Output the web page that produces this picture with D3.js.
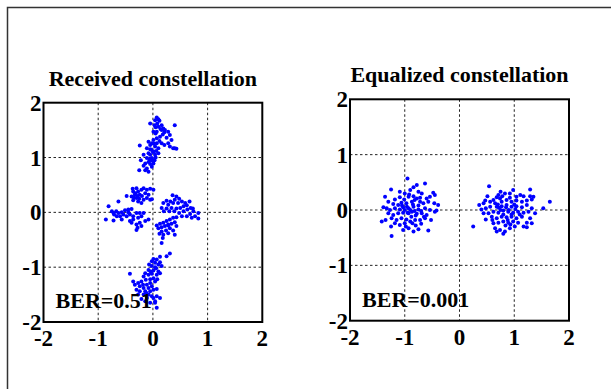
<!DOCTYPE html>
<html>
<head>
<meta charset="utf-8">
<script src="https://cdn.jsdelivr.net/npm/d3@7"></script>
<style>
  body { margin: 0; background: #fff; }
  svg text { font-family: "Liberation Serif", "Times New Roman", serif; font-weight: bold; fill: #000; }
</style>
</head>
<body>
<svg id="chart" width="611" height="389"></svg>
<script>
// tick labels shared by both axes of both panels
const tickValues = [-2, -1, 0, 1, 2];
const gridValues = [-1, 0, 1];

const titles = ["Received constellation", "Equalized constellation"];
const berLabels = ["BER=0.51", "BER=0.001"];

// received constellation
const rxTop = [
  [0.07,1.73],[0.10,1.70],[0.04,1.68],[0.12,1.67],[0.08,1.62],[0.03,1.59],[-0.05,1.62],[0.05,1.55],
  [0.10,1.56],[0.16,1.50],[0.19,1.53],[0.22,1.50],[0.40,1.59],[0.21,1.46],[0.28,1.47],[0.31,1.41],
  [0.13,1.38],[0.07,1.35],[0.25,1.36],[0.34,1.32],[0.28,1.26],[0.21,1.23],[0.40,1.17],[0.43,1.16],
  [0.37,1.17],[0.31,1.20],[0.01,1.32],[-0.02,1.26],[-0.05,1.23],[-0.08,1.29],[-0.24,1.22],[-0.11,1.17],
  [-0.03,1.14],[0.04,1.20],[0.10,1.17],[0.01,1.11],[-0.08,1.08],[-0.05,1.05],[0.04,1.05],[-0.02,0.99],
  [-0.11,0.99],[-0.08,0.92],[-0.14,0.89],[-0.05,0.88],[0.01,0.89],[-0.17,0.85],[-0.22,0.95],[-0.25,0.77],
  [-0.14,0.77],[-0.08,0.74],[-0.11,0.80],[-0.02,0.83],[-0.17,1.05],[0.07,1.26],[0.16,1.26],[0.10,1.08],
  [0.03,0.95],[-0.03,0.95],[0.05,1.44],[0.01,1.47],[0.16,1.59],[0.07,1.47],[0.00,1.10],[0.05,1.00],
  [-0.05,1.15],[0.02,1.25],[0.12,1.30],[0.00,0.95],[0.14,1.52],[0.18,1.42],[-0.06,0.97],[0.06,1.12]
];
const rxLeft = [
  [-0.37,0.43],[-0.30,0.44],[-0.36,0.38],[-0.27,0.38],[-0.21,0.41],[-0.17,0.44],[-0.11,0.41],[-0.14,0.35],
  [-0.05,0.43],[0.01,0.41],[-0.08,0.32],[-0.24,0.32],[-0.33,0.32],[-0.39,0.29],[-0.30,0.26],[-0.36,0.22],
  [-0.27,0.20],[-0.17,0.23],[-0.21,0.17],[-0.11,0.26],[-0.05,0.23],[-0.02,0.24],[-0.48,0.30],[-0.63,0.20],
  [-0.81,0.11],[-0.75,0.02],[-0.72,-0.01],[-0.67,0.02],[-0.63,-0.01],[-0.57,0.00],[-0.51,0.04],[-0.45,0.05],
  [-0.39,0.06],[-0.54,-0.04],[-0.60,-0.07],[-0.66,-0.07],[-0.71,-0.04],[-0.86,-0.13],[-0.72,-0.15],[-0.57,-0.13],
  [-0.48,-0.07],[-0.42,-0.04],[-0.36,-0.07],[-0.30,-0.01],[-0.24,-0.01],[-0.21,-0.07],[-0.27,-0.10],[-0.36,-0.13],
  [-0.42,-0.16],[-0.39,-0.19],[-0.30,-0.22],[-0.24,-0.19],[-0.14,-0.16],[-0.08,-0.13],[-0.30,-0.32],[-0.21,-0.25],
  [-0.17,-0.01],[-0.45,0.00],[-0.32,0.35],[-0.28,0.30],[-0.25,0.25],[-0.35,0.27],[-0.20,0.30],[-0.28,-0.28]
];
const rxRight = [
  [0.36,0.31],[0.43,0.29],[0.48,0.25],[0.40,0.23],[0.32,0.20],[0.25,0.21],[0.19,0.17],[0.28,0.14],
  [0.37,0.17],[0.46,0.17],[0.53,0.20],[0.59,0.17],[0.67,0.20],[0.62,0.13],[0.56,0.11],[0.50,0.08],
  [0.43,0.07],[0.34,0.08],[0.25,0.07],[0.16,0.08],[0.20,0.02],[0.30,0.02],[0.39,0.02],[0.48,-0.01],
  [0.56,0.02],[0.63,0.05],[0.69,0.08],[0.74,0.02],[0.68,-0.03],[0.62,-0.07],[0.71,-0.10],[0.77,-0.07],
  [0.83,-0.01],[0.83,-0.11],[0.73,0.07],[0.53,-0.07],[0.43,-0.09],[0.37,-0.10],[0.31,-0.13],[0.25,-0.16],
  [0.19,-0.19],[0.13,-0.21],[0.07,-0.24],[0.10,-0.29],[0.16,-0.27],[0.22,-0.25],[0.28,-0.24],[0.34,-0.21],
  [0.40,-0.18],[0.31,-0.29],[0.24,-0.33],[0.16,-0.35],[0.12,-0.39],[0.19,-0.41],[0.28,-0.38],[0.37,-0.33],
  [0.43,-0.25],[0.40,-0.41],[0.18,-0.47],[0.16,-0.56],[0.28,-0.22]
];
const rxBottom = [
  [0.31,-0.75],[0.25,-0.80],[0.13,-0.81],[0.07,-0.86],[0.01,-0.85],[-0.02,-0.89],[0.04,-0.92],[0.10,-0.95],
  [0.13,-0.91],[0.16,-0.98],[0.06,-1.02],[-0.02,-0.98],[-0.07,-0.95],[-0.08,-1.05],[0.01,-1.06],[0.10,-1.08],
  [0.13,-1.11],[0.07,-1.14],[-0.02,-1.12],[-0.08,-1.14],[-0.14,-1.11],[-0.17,-1.17],[-0.13,-1.23],[-0.05,-1.22],
  [0.01,-1.20],[0.08,-1.22],[0.04,-1.26],[-0.05,-1.29],[-0.11,-1.32],[-0.21,-1.26],[-0.27,-1.29],[-0.33,-1.32],
  [-0.24,-1.35],[-0.17,-1.38],[-0.08,-1.38],[-0.02,-1.35],[0.01,-1.41],[0.07,-1.40],[-0.05,-1.44],[-0.14,-1.44],
  [-0.24,-1.44],[-0.30,-1.41],[-0.27,-1.50],[-0.17,-1.50],[-0.08,-1.50],[-0.02,-1.53],[-0.11,-1.56],[-0.21,-1.58],
  [0.01,-1.56],[0.07,-1.53],[-0.42,-1.12],[-0.36,-1.26],[0.04,-1.62],[0.13,-1.56],[0.07,-1.74],[0.04,-1.65],
  [-0.05,-1.65],[-0.14,-1.62],[0.04,-1.00],[-0.04,-1.08],[-0.18,-1.32],[-0.12,-1.47]
];

// equalized constellation
const eqLeft = [
  [-0.95,0.57],[-0.63,0.48],[-0.78,0.45],[-0.84,0.41],[-1.25,0.37],[-1.09,0.33],[-0.90,0.36],[-1.00,0.30],
  [-0.75,0.33],[-0.69,0.30],[-0.48,0.31],[-0.45,0.27],[-0.54,0.24],[-0.60,0.21],[-1.30,0.15],[-1.36,0.24],
  [-1.18,0.19],[-1.09,0.23],[-1.01,0.19],[-0.93,0.24],[-0.84,0.25],[-0.78,0.21],[-0.72,0.15],[-0.66,0.12],
  [-0.57,0.15],[-0.46,0.12],[-0.39,0.09],[-0.87,0.15],[-0.97,0.12],[-1.06,0.13],[-1.12,0.09],[-1.21,0.11],
  [-1.33,0.03],[-1.39,0.05],[-1.27,0.00],[-1.18,0.03],[-1.09,0.01],[-1.03,0.05],[-0.93,0.03],[-0.84,0.06],
  [-0.75,0.01],[-0.63,0.03],[-0.54,0.00],[-0.42,-0.01],[-1.30,-0.06],[-1.21,-0.09],[-1.12,-0.06],[-1.03,-0.05],
  [-0.93,-0.06],[-0.87,-0.03],[-0.78,-0.07],[-0.69,-0.06],[-0.60,-0.09],[-1.42,-0.21],[-1.35,-0.18],[-1.24,-0.15],
  [-1.15,-0.18],[-1.06,-0.15],[-0.97,-0.17],[-0.90,-0.21],[-0.81,-0.18],[-0.72,-0.18],[-0.63,-0.15],[-0.52,-0.18],
  [-1.00,-0.24],[-1.09,-0.27],[-1.18,-0.24],[-1.25,-0.30],[-0.93,-0.33],[-0.84,-0.39],[-0.75,-0.35],[-0.57,-0.37],
  [-1.03,-0.36],[-1.24,-0.47],[-0.45,-0.03],[-0.85,0.10],[-0.80,-0.10],[-0.95,-0.05],[-0.90,0.00],[-0.75,0.08],
  [-1.00,0.00],[-0.88,-0.12],[-0.82,0.18],[-0.70,-0.02],[-0.65,-0.12],[-0.92,0.28],[-0.80,-0.28],[-0.70,-0.25],
  [-0.98,-0.30],[-0.86,-0.24],[-1.05,0.08],[-0.72,0.22],[-0.96,0.06],[-0.82,-0.02]
];
const eqRight = [
  [0.54,0.43],[0.75,0.33],[0.71,0.27],[0.68,0.23],[0.74,0.21],[0.51,0.25],[0.62,0.18],[0.83,0.30],
  [0.92,0.30],[0.98,0.36],[1.29,0.37],[1.11,0.27],[1.17,0.25],[1.04,0.24],[1.29,0.25],[1.35,0.24],
  [0.47,0.17],[0.36,0.09],[0.44,0.12],[0.56,0.15],[0.65,0.12],[0.77,0.15],[0.86,0.18],[0.95,0.15],
  [1.04,0.17],[1.14,0.15],[1.23,0.17],[1.32,0.19],[0.40,0.01],[0.48,0.03],[0.56,0.06],[0.68,0.06],
  [0.77,0.07],[0.86,0.09],[0.95,0.06],[1.04,0.07],[1.14,0.05],[1.23,0.09],[1.32,0.03],[1.53,0.03],
  [1.38,-0.06],[0.44,-0.06],[0.53,-0.06],[0.62,-0.03],[0.71,-0.05],[0.80,-0.01],[0.89,-0.03],[0.98,-0.05],
  [1.07,-0.03],[1.17,-0.05],[1.26,-0.03],[0.48,-0.17],[0.59,-0.12],[0.68,-0.15],[0.77,-0.12],[0.86,-0.13],
  [0.95,-0.12],[1.04,-0.15],[1.14,-0.12],[1.29,-0.15],[1.23,-0.23],[1.32,-0.24],[0.25,-0.30],[0.62,-0.24],
  [0.71,-0.23],[0.80,-0.21],[0.89,-0.23],[0.98,-0.21],[1.07,-0.23],[1.17,-0.30],[0.65,-0.33],[0.74,-0.36],
  [0.83,-0.39],[0.92,-0.33],[1.01,-0.30],[0.68,-0.39],[0.80,-0.43],[1.23,-0.31],[1.65,0.15],[0.90,0.00],
  [0.85,0.05],[0.95,-0.08],[0.80,-0.08],[1.00,0.10],[0.75,0.00],[0.88,-0.18],[1.10,-0.08],[0.70,0.10],
  [0.92,0.22],[0.60,-0.18],[0.84,-0.28],[0.72,0.04],[1.02,0.02],[0.78,0.25],[0.93,-0.26]
];

const svg = d3.select("#chart");

// outer figure frame (runs off the right and bottom edges)
svg.append("rect")
  .attr("x", 7.5).attr("y", 7.5)
  .attr("width", 640).attr("height", 420)
  .attr("fill", "none")
  .attr("stroke", "#333")
  .attr("stroke-width", 1.5);

const panels = [
  { title: titles[0], ber: berLabels[0], points: rxTop.concat(rxLeft, rxRight, rxBottom),
    left: 43.5, right: 262.3, top: 102.7, bottom: 322, titleY: 86 },
  { title: titles[1], ber: berLabels[1], points: eqLeft.concat(eqRight),
    left: 350, right: 569, top: 99.3, bottom: 320.7, titleY: 82 }
];

panels.forEach(p => {
  const x = d3.scaleLinear().domain([-2, 2]).range([p.left, p.right]);
  const y = d3.scaleLinear().domain([-2, 2]).range([p.bottom, p.top]);
  const g = svg.append("g");

  // dotted grid
  g.selectAll(".gx").data(gridValues).enter().append("line")
    .attr("x1", d => x(d)).attr("x2", d => x(d))
    .attr("y1", p.top).attr("y2", p.bottom)
    .attr("stroke", "#222").attr("stroke-width", 1)
    .attr("stroke-dasharray", "2.5,2.5");
  g.selectAll(".gy").data(gridValues).enter().append("line")
    .attr("y1", d => y(d)).attr("y2", d => y(d))
    .attr("x1", p.left).attr("x2", p.right)
    .attr("stroke", "#222").attr("stroke-width", 1)
    .attr("stroke-dasharray", "2.5,2.5");

  // points
  g.selectAll("circle").data(p.points).enter().append("circle")
    .attr("cx", d => x(d[0]))
    .attr("cy", d => y(d[1]))
    .attr("r", 2)
    .attr("fill", "#0000ff");

  // axes box
  g.append("rect")
    .attr("x", p.left).attr("y", p.top)
    .attr("width", p.right - p.left).attr("height", p.bottom - p.top)
    .attr("fill", "none").attr("stroke", "#000").attr("stroke-width", 2);

  // tick labels
  g.selectAll(".xt").data(tickValues).enter().append("text")
    .attr("x", d => x(d)).attr("y", p.bottom + 24)
    .attr("text-anchor", "middle")
    .style("font-size", "23px")
    .text(d => d);
  g.selectAll(".yt").data(tickValues).enter().append("text")
    .attr("x", p.left - 2).attr("y", d => y(d))
    .attr("dy", "0.35em")
    .attr("text-anchor", "end")
    .style("font-size", "23px")
    .text(d => d);

  // title and BER note
  g.append("text")
    .attr("x", (p.left + p.right) / 2).attr("y", p.titleY)
    .attr("text-anchor", "middle")
    .style("font-size", "22px")
    .text(p.title);
  g.append("text")
    .attr("x", x(-1.78)).attr("y", y(-1.75))
    .style("font-size", "22px")
    .text(p.ber);
});
</script>
</body>
</html>
